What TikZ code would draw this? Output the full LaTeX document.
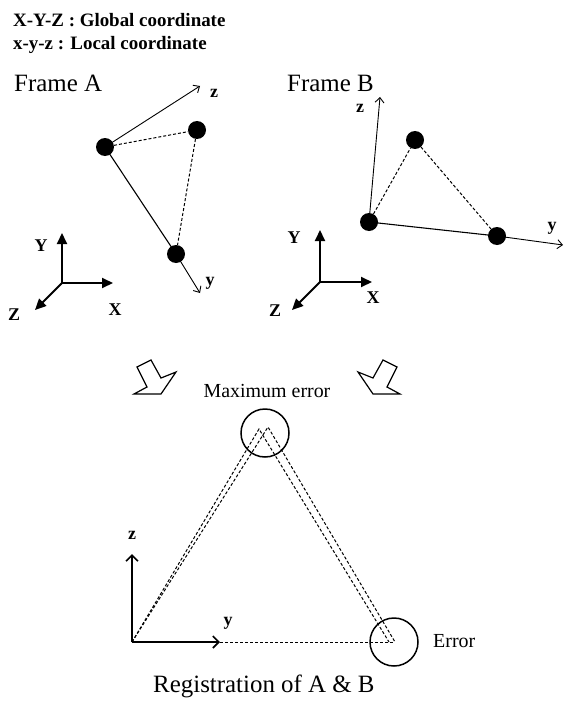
\documentclass[tikz,border=0pt]{standalone}
\usepackage{fontspec}
\setmainfont{Liberation Serif}
\usetikzlibrary{arrows.meta}

\begin{document}
\begin{tikzpicture}[x=1bp,y=-1bp,
  dot/.style={circle,fill=black,inner sep=0pt,minimum size=18bp},
  localaxis/.style={line width=0.9bp,-{Straight Barb[length=5bp,width=9bp]}},
  globalaxis/.style={line width=2bp,-{Triangle[length=11bp,width=10bp]}},
  regaxis/.style={line width=2bp,-{Straight Barb[length=6bp,width=12bp,line width=1.6bp]}},
  dashedge/.style={line width=1bp,dash pattern=on 3bp off 2bp},
  solidedge/.style={line width=1.1bp},
  axlabel/.style={font=\fontsize{18}{18}\selectfont\bfseries,inner sep=0pt},
  header/.style={font=\fontsize{19}{19}\selectfont\bfseries,inner sep=0pt,anchor=base west},
  title/.style={font=\fontsize{25}{25}\selectfont,inner sep=0pt},
  note/.style={font=\fontsize{20}{20}\selectfont,inner sep=0pt},
  errcircle/.style={circle,draw,line width=1.5bp,minimum size=48bp,inner sep=0pt},
  blockarrow/.style={draw,line width=1.2bp,fill=white,line join=miter}
]
\useasboundingbox (0,0) rectangle (564,703);

% legend
\node[header] (h1) at (13,27) {X-Y-Z : Global coordinate};
\node[header] (h2) at (13,50) {x-y-z : Local coordinate};

% ---------- Frame A ----------
\node[title,anchor=base west] (fa) at (14,92) {Frame A};
\node[dot] (a1) at (105,147) {};
\node[dot] (a2) at (197,130) {};
\node[dot] (a3) at (176,254) {};
\coordinate (azt) at (200,86);
\coordinate (ayt) at (200,293);
\draw[localaxis] (a1.center) -- (azt);
\draw[solidedge] (a1.center) -- (a3.center);
\draw[localaxis] (a3.center) -- (ayt);
\draw[dashedge] (a1) -- (a2);
\draw[dashedge] (a2) -- (a3);
\node[axlabel] (azl) at (214,93) {z};
\node[axlabel] (ayl) at (210,283) {y};

% global axes A
\coordinate (ga) at (62,283);
\coordinate (gay) at (62,233);
\coordinate (gax) at (113,283);
\coordinate (gaz) at (35,310);
\draw[globalaxis] (ga) -- (gay);
\draw[globalaxis] (ga) -- (gax);
\draw[globalaxis] (ga) -- (gaz);
\node[axlabel] (gayl) at (41,246) {Y};
\node[axlabel] (gaxl) at (115,310) {X};
\node[axlabel] (gazl) at (14,315) {Z};

% ---------- Frame B ----------
\node[title,anchor=base west] (fb) at (287,92) {Frame B};
\node[dot] (b1) at (369,222) {};
\node[dot] (b2) at (415,140) {};
\node[dot] (b3) at (497,236) {};
\coordinate (bzt) at (380,97);
\coordinate (byt) at (563,245);
\draw[localaxis] (b1.center) -- (bzt);
\draw[solidedge] (b1.center) -- (b3.center);
\draw[localaxis] (b3.center) -- (byt);
\draw[dashedge] (b1) -- (b2);
\draw[dashedge] (b2) -- (b3);
\node[axlabel] (bzl) at (360,108) {z};
\node[axlabel] (byl) at (552,228) {y};

% global axes B
\coordinate (gb) at (320,282);
\coordinate (gby) at (320,230);
\coordinate (gbx) at (372,282);
\coordinate (gbz) at (292,310);
\draw[globalaxis] (gb) -- (gby);
\draw[globalaxis] (gb) -- (gbx);
\draw[globalaxis] (gb) -- (gbz);
\node[axlabel] (gbyl) at (294,238) {Y};
\node[axlabel] (gbxl) at (373,298) {X};
\node[axlabel] (gbzl) at (275,311) {Z};

% ---------- block arrows ----------
\coordinate (lt) at (161,394);
\coordinate (rt) at (373,394);
\draw[blockarrow] (rt) -- ++(-15,-22) -- ++(15,6) -- ++(10,-18) -- ++(14,7)
  -- ++(-10,20) -- ++(13,7) -- cycle;
\draw[blockarrow] (lt) -- ++(15,-22) -- ++(-15,6) -- ++(-10,-18) -- ++(-14,7)
  -- ++(10,20) -- ++(-13,7) -- cycle;

% ---------- registration ----------
\node[note,anchor=base] (maxl) at (267,397) {Maximum error};
\node[errcircle] (c1) at (265,433) {};
\node[errcircle] (c2) at (394,642) {};
\node[note,anchor=base west] (errl) at (433,647) {Error};

\coordinate (o) at (132,642);
\coordinate (t1) at (259,429);
\coordinate (t2) at (268,427);
\coordinate (r1) at (389,642);
\coordinate (r2) at (395,642);
\coordinate (rzt) at (132,554);
\coordinate (ryt) at (220,642);

\draw[dashedge] (o) -- (t1) -- (r1);
\draw[dashedge] (o) -- (t2) -- (r2);
\draw[dashedge] (ryt) -- (r2);
\draw[regaxis] (o) -- (rzt);
\draw[regaxis] (o) -- (ryt);
\node[axlabel] (rzl) at (132,535) {z};
\node[axlabel] (ryl) at (228,623) {y};

\node[title,anchor=base west] (reg) at (153,692) {Registration of A \& B};
\end{tikzpicture}
\end{document}
